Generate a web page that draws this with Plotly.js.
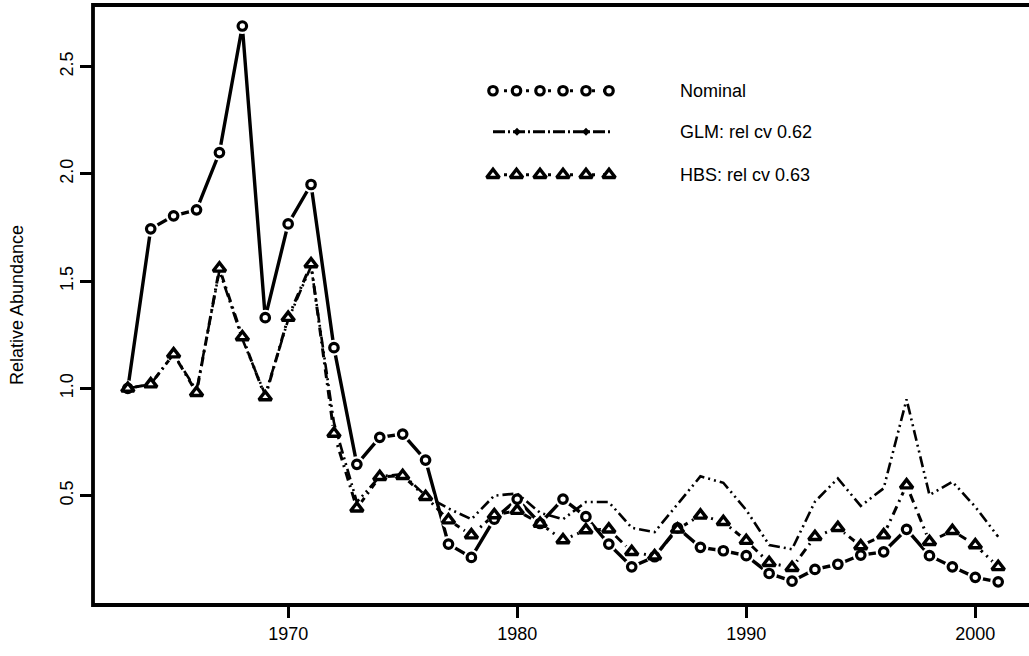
<!DOCTYPE html>
<html>
<head>
<meta charset="utf-8">
<script src="https://cdn.plot.ly/plotly-3.0.1.min.js"></script>
<style>
html,body{margin:0;padding:0;background:#fff;overflow:hidden;width:1029px;height:656px;}
#chart{width:1040px;height:656px;}
</style>
</head>
<body>
<div id="chart"></div>
<script>
// ---- data ----
const years = [1963,1964,1965,1966,1967,1968,1969,1970,1971,1972,1973,1974,1975,1976,1977,1978,1979,1980,
  1981,1982,1983,1984,1985,1986,1987,1988,1989,1990,1991,1992,1993,1994,1995,1996,1997,1998,1999,2000,2001];
const nominal = [1.00,1.744,1.805,1.833,2.10,2.69,1.33,1.767,1.951,1.19,0.646,0.772,0.787,0.666,0.274,0.212,0.39,0.484,
  0.37,0.484,0.402,0.274,0.168,0.215,0.35,0.259,0.243,0.22,0.137,0.101,0.156,0.18,0.223,0.238,0.343,0.22,0.168,0.119,0.098];
const glm = [1.00,1.02,1.16,0.99,1.55,1.23,0.97,1.32,1.57,0.84,0.47,0.59,0.60,0.50,0.44,0.39,0.50,0.51,
  0.42,0.39,0.47,0.47,0.35,0.33,0.46,0.59,0.56,0.433,0.27,0.25,0.472,0.58,0.452,0.534,0.949,0.503,0.565,0.448,0.308];
const hbs = [1.00,1.02,1.16,0.98,1.56,1.24,0.96,1.33,1.58,0.79,0.441,0.588,0.593,0.495,0.386,0.316,0.41,0.43,
  0.37,0.293,0.34,0.343,0.238,0.218,0.343,0.408,0.378,0.29,0.187,0.164,0.308,0.35,0.265,0.316,0.549,0.285,0.336,0.27,0.168];
const seriesNames = ["Nominal","GLM: rel cv 0.62","HBS: rel cv 0.63"];
const xTicks = [1970,1980,1990,2000];
const yTicks = [0.5,1.0,1.5,2.0,2.5];
const yTickText = ["0.5","1.0","1.5","2.0","2.5"];

// ---- styles ----
const FONT = "Liberation Sans, Arial, Helvetica, sans-serif";
const BLACK = "#000";
const circleMarker = {symbol:"circle",size:8.5,color:"#fff",line:{color:BLACK,width:3.2}};
const triMarker = {symbol:"triangle-up",size:11,color:"#fff",line:{color:BLACK,width:3.4}};

const traces = [];
// Nominal line + gap halo
traces.push({x:years,y:nominal,type:"scatter",mode:"lines",line:{color:BLACK,width:3.4},hoverinfo:"skip",showlegend:false});
traces.push({x:years,y:nominal,type:"scatter",mode:"markers",marker:{symbol:"circle",size:16,color:"#fff"},hoverinfo:"skip",showlegend:false});
// HBS line + halo
traces.push({x:years,y:hbs,type:"scatter",mode:"lines",line:{color:BLACK,width:3,dash:"2px,5px,9px,5px"},hoverinfo:"skip",showlegend:false});
traces.push({x:years,y:hbs,type:"scatter",mode:"markers",marker:{symbol:"circle",size:16,color:"#fff"},hoverinfo:"skip",showlegend:false});
// GLM line
traces.push({x:years,y:glm,type:"scatter",mode:"lines",name:seriesNames[1],line:{color:BLACK,width:2.6,dash:"11px,4px,2px,4px,2px,4px"},showlegend:false});
// markers
traces.push({x:years,y:nominal,type:"scatter",mode:"markers",name:seriesNames[0],marker:circleMarker,showlegend:false});
traces.push({x:years,y:hbs,type:"scatter",mode:"markers",name:seriesNames[2],marker:triMarker,showlegend:false});

// ---- legend (drawn on a pixel-like auxiliary axis) ----
const legX0 = 493, legX1 = 611;
const legRows = [91, 132, 175];
const legMarkX = [493,516.5,540,563,586,609];
const legText = 678;
// Nominal sample
traces.push({x:[legX0,legX1],y:[legRows[0],legRows[0]],xaxis:"x2",yaxis:"y2",mode:"lines",line:{color:BLACK,width:3,dash:"3px,8px"},hoverinfo:"skip",showlegend:false});
traces.push({x:legMarkX,y:legMarkX.map(()=>legRows[0]),xaxis:"x2",yaxis:"y2",mode:"markers",marker:circleMarker,hoverinfo:"skip",showlegend:false});
// GLM sample
traces.push({x:[legX0,legX1],y:[legRows[1],legRows[1]],xaxis:"x2",yaxis:"y2",mode:"lines",line:{color:BLACK,width:2.8,dash:"12px,3px,2px,3px"},hoverinfo:"skip",showlegend:false});
traces.push({x:[517,586],y:[legRows[1],legRows[1]],xaxis:"x2",yaxis:"y2",mode:"markers",marker:{symbol:"diamond",size:6,color:BLACK},hoverinfo:"skip",showlegend:false});
// HBS sample
traces.push({x:[legX0,legX1],y:[legRows[2],legRows[2]],xaxis:"x2",yaxis:"y2",mode:"lines",line:{color:BLACK,width:3,dash:"3px,8px"},hoverinfo:"skip",showlegend:false});
traces.push({x:legMarkX,y:legMarkX.map(()=>legRows[2]),xaxis:"x2",yaxis:"y2",mode:"markers",marker:triMarker,hoverinfo:"skip",showlegend:false});

const annotations = seriesNames.map((s,i)=>({
  text:s, x:legText, y:legRows[i], xref:"x2", yref:"y2", xanchor:"left", yanchor:"middle",
  showarrow:false, font:{family:FONT,size:18,color:BLACK}
}));

const layout = {
  width:1040, height:656,
  margin:{l:93,r:7,t:5.3,b:51,pad:0},
  paper_bgcolor:"#fff", plot_bgcolor:"#fff",
  font:{family:FONT,size:18,color:BLACK},
  showlegend:false,
  xaxis:{range:[1961.48,2002.52],tickvals:xTicks,ticktext:xTicks.map(String),ticks:"outside",ticklen:12,tickwidth:3,
    tickcolor:BLACK,showgrid:false,zeroline:false,showline:false,tickfont:{family:FONT,size:18,color:BLACK}},
  yaxis:{range:[-0.01,2.788],tickvals:yTicks,ticktext:yTickText,ticks:"outside",ticklen:12,tickwidth:3,tickangle:-90,
    tickcolor:BLACK,showgrid:false,zeroline:false,showline:false,tickfont:{family:FONT,size:18,color:BLACK},
    title:{text:"Relative Abundance",font:{family:FONT,size:18,color:BLACK},standoff:28}},
  xaxis2:{overlaying:"x",range:[93,1033],visible:false,fixedrange:true},
  yaxis2:{overlaying:"y",range:[605,5.3],visible:false,fixedrange:true},
  shapes:[{type:"rect",xref:"paper",yref:"paper",x0:0,x1:1,y0:0,y1:1,line:{color:BLACK,width:3.8},layer:"above"}],
  annotations:annotations
};

Plotly.newPlot("chart",traces,layout,{staticPlot:true,displayModeBar:false});
</script>
</body>
</html>
